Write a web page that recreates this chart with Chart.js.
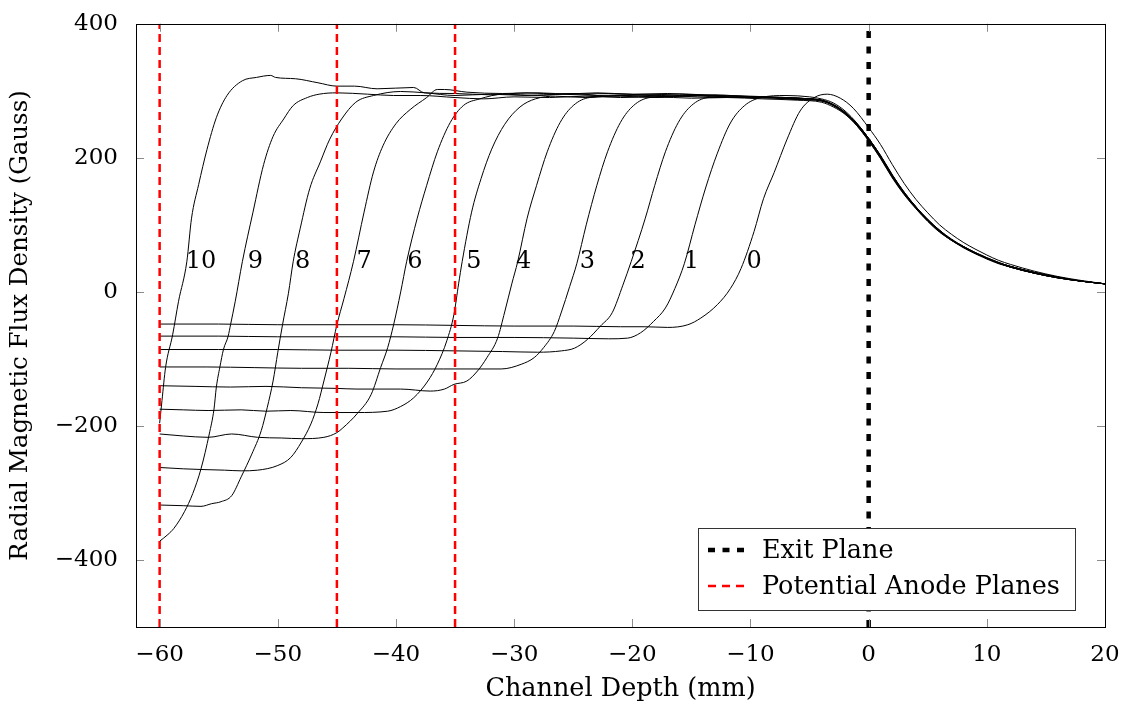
<!DOCTYPE html>
<html>
<head>
<meta charset="utf-8">
<script src="https://cdn.jsdelivr.net/npm/chart.js@4.4.1/dist/chart.umd.min.js"></script>
<style>
  html, body { margin: 0; padding: 0; background: #fff; }
  #wrap { width: 1126px; height: 711px; }
</style>
</head>
<body>
<div id="wrap"><canvas id="fluxChart" width="1126" height="711"></canvas></div>
<script>
/* ===== DATA (depth mm, flux Gauss) ===== */
const curve0 = [[-60,-48],[-55,-48],[-50,-49],[-45,-49],[-40,-49],[-35,-50],[-30,-51],[-25,-51],[-21,-52],[-19,-52],[-17,-53],[-15.3,-49],[-14.2,-39],[-12.8,-19],[-11.7,5],[-10.8,35],[-9.7,90],[-8.9,139],[-8.0,178],[-6.9,228],[-5.8,270],[-4.6,290],[-3.5,295],[-2.4,289],[-1.3,274],[0,245],[1,220],[2,190],[3,162],[4,138],[5,118],[6,100],[7,86],[8,74],[9,64],[10,55],[11,47],[12,41],[14,31],[16,23],[18,17],[20,12]];
const curve1 = [[-60,-66],[-55,-66],[-50,-67],[-45,-67],[-40,-67],[-35,-68],[-30,-68],[-25,-69],[-22,-70],[-20.4,-69],[-19.3,-61],[-18.2,-44],[-17.2,-24],[-16.4,5],[-15.6,42],[-14.7,100],[-13.8,155],[-12.8,207],[-11.7,252],[-10.5,278],[-9.1,290],[-7,293],[-5,291],[-4,288],[-3,282],[-2,270],[-1,252],[0,229],[1,204],[2,175],[3,149],[4,127],[5,108],[6,92],[7,79],[8,68],[9,59],[10,51],[11,44],[12,38],[14,29],[16,22],[18,16],[20,12]];
const curve2 = [[-60,-86],[-55,-86],[-50,-86],[-45,-87],[-40,-87],[-35,-88],[-31,-89],[-28,-90],[-26,-88],[-24.9,-84],[-23.8,-71],[-22.7,-51],[-21.7,-31],[-20.8,10],[-20.1,45],[-18.9,110],[-18.1,159],[-17.2,209],[-16.1,253],[-15.0,278],[-13.6,290],[-11,292],[-8,290],[-6,289],[-5,288],[-4,285],[-3,279],[-2,267],[-1,250],[0,227],[1,201],[2,172],[3,147],[4,126],[5,107],[6,91],[7,78],[8,67],[9,58],[10,50],[11,43],[12,37],[14,28],[16,21],[18,16],[20,12]];
const curve3 = [[-60,-112],[-56,-112],[-52,-113],[-48,-114],[-44,-114],[-40,-115],[-36,-115],[-33,-115],[-31.1,-115],[-29.4,-108],[-28.3,-98],[-27.5,-83],[-26.6,-59],[-26.0,-30],[-25.3,8],[-24.7,42],[-23.9,100],[-23.0,159],[-22.1,209],[-21.0,253],[-19.9,278],[-18.5,290],[-16,292],[-13,290],[-10,291],[-7,290],[-5,288],[-4,286],[-3,280],[-2,268],[-1,251],[0,229],[1,203],[2,174],[3,148],[4,127],[5,108],[6,92],[7,78],[8,68],[9,58],[10,50],[11,43],[12,38],[14,29],[16,22],[18,16],[20,12]];
const curve4 = [[-60,-140],[-57,-141],[-54,-142],[-51,-141],[-48,-143],[-45,-144],[-43.3,-145],[-39.6,-145],[-37.1,-148],[-35.9,-145],[-35.1,-138],[-34.0,-133],[-33.1,-118],[-32.3,-98],[-31.4,-69],[-30.8,-30],[-30.2,12],[-29.7,45],[-28.9,110],[-28.1,159],[-27.2,209],[-26.1,253],[-25.0,278],[-23.6,290],[-21,292],[-18,290],[-15,293],[-12,290],[-9,291],[-7,289],[-5,288],[-4,286],[-3,279],[-2,267],[-1,250],[0,228],[1,202],[2,173],[3,147],[4,126],[5,107],[6,91],[7,78],[8,67],[9,58],[10,50],[11,43],[12,37],[14,28],[16,21],[18,16],[20,12]];
const curve5 = [[-60,-175],[-58,-176],[-55.9,-177],[-53.1,-176],[-51,-178],[-48.9,-177],[-46.1,-180],[-43.3,-180],[-40.7,-178],[-39.6,-171],[-38.5,-158],[-37.3,-133],[-36.5,-108],[-35.7,-73],[-35.1,-34],[-34.7,12],[-34.4,45],[-33.6,119],[-32.8,169],[-31.9,213],[-30.8,250],[-29.5,276],[-28.2,288],[-26.5,292],[-24,290],[-21,293],[-18,291],[-15,294],[-12,291],[-9,290],[-7,289],[-5,288],[-4,286],[-3,279],[-2,268],[-1,251],[0,229],[1,203],[2,174],[3,149],[4,127],[5,108],[6,92],[7,78],[8,68],[9,59],[10,51],[11,44],[12,38],[14,29],[16,22],[18,16],[20,12]];
const curve6 = [[-60,-212],[-58,-215],[-55.9,-217],[-53.9,-212],[-51.7,-217],[-49.7,-218],[-48.0,-219],[-46.1,-217],[-45.0,-210],[-44.5,-203],[-43.3,-182],[-42.1,-153],[-41.3,-113],[-40.7,-83],[-40.2,-49],[-39.6,0],[-39.1,45],[-38.2,110],[-37.4,159],[-36.5,209],[-35.4,253],[-34.3,278],[-32.9,288],[-30.9,295],[-28,293],[-25,296],[-22,292],[-19,294],[-16,292],[-13,294],[-10,291],[-7,289],[-5,288],[-4,286],[-3,279],[-2,267],[-1,251],[0,229],[1,203],[2,174],[3,148],[4,126],[5,107],[6,91],[7,78],[8,67],[9,58],[10,50],[11,43],[12,38],[14,29],[16,22],[18,16],[20,12]];
const curve7 = [[-60,-262],[-58,-264],[-56.5,-265],[-54.5,-266],[-53.1,-267],[-51.7,-266],[-50.0,-259],[-48.9,-247],[-48.0,-224],[-47.2,-197],[-46.6,-167],[-46.1,-133],[-45.5,-90],[-45.0,-49],[-44.4,-10],[-43.6,45],[-42.7,119],[-41.9,179],[-41.1,218],[-40.0,251],[-38.8,272],[-37.4,290],[-36.5,302],[-35.9,302],[-34,298],[-31,296],[-28,297],[-25,295],[-22,296],[-19,294],[-16,295],[-13,293],[-10,292],[-7,290],[-5,288],[-4,285],[-3,278],[-2,266],[-1,248],[0,226],[1,201],[2,172],[3,147],[4,125],[5,106],[6,90],[7,77],[8,67],[9,58],[10,50],[11,43],[12,37],[14,28],[16,21],[18,16],[20,12]];
const curve8 = [[-60,-318],[-58,-319],[-56.5,-320],[-55.6,-316],[-54.8,-313],[-53.9,-304],[-53.1,-276],[-52.2,-242],[-51.4,-207],[-50.9,-173],[-50.4,-133],[-50.0,-90],[-49.6,-49],[-49.1,-2],[-48.7,45],[-48.1,95],[-47.3,154],[-46.4,194],[-45.6,228],[-44.6,258],[-43.4,283],[-41.9,293],[-39.6,299],[-37.5,297],[-35,293],[-32,295],[-29,293],[-26,295],[-23,293],[-20,294],[-17,292],[-14,293],[-11,290],[-8,289],[-6,287],[-4,286],[-3,279],[-2,267],[-1,250],[0,228],[1,202],[2,173],[3,148],[4,126],[5,107],[6,91],[7,78],[8,67],[9,58],[10,50],[11,43],[12,38],[14,29],[16,22],[18,16],[20,12]];
const curve9 = [[-60,-372],[-59.3,-362],[-58.8,-353],[-57.9,-328],[-57.2,-301],[-56.5,-264],[-55.8,-212],[-55.4,-175],[-55.2,-142],[-54.9,-112],[-54.6,-86],[-54.2,-66],[-54.0,-49],[-53.6,-14],[-53.0,45],[-52.1,119],[-51.2,190],[-50.4,232],[-49.5,258],[-48.7,278],[-47.5,290],[-46.5,295],[-45.0,297],[-42.4,295],[-40.2,293],[-37.9,293],[-35,290],[-32.6,288],[-30,291],[-27,290],[-24,292],[-21,290],[-18,291],[-15,289],[-12,290],[-9,288],[-6,286],[-4,283],[-3,276],[-2,265],[-1,248],[0,225],[1,199],[2,170],[3,145],[4,124],[5,105],[6,89],[7,77],[8,66],[9,57],[10,49],[11,42],[12,37],[14,28],[16,21],[18,16],[20,12]];
const curve10 = [[-60,-196],[-59.8,-162],[-59.5,-113],[-58.9,-64],[-58.4,-14],[-57.7,45],[-57.3,110],[-56.7,160],[-56.0,212],[-55.2,260],[-54.3,293],[-53.0,315],[-51.8,320],[-50.6,323],[-50.2,320],[-48.5,318],[-46.6,312],[-45.0,307],[-43.5,307],[-41.6,303],[-38.5,305],[-37.6,297],[-35,296],[-32,294],[-29,297],[-26,295],[-23,297],[-20,295],[-17,296],[-14,294],[-11,292],[-8,290],[-6,287],[-4,285],[-3,278],[-2,266],[-1,249],[0,226],[1,200],[2,171],[3,146],[4,125],[5,106],[6,90],[7,77],[8,67],[9,58],[10,50],[11,43],[12,37],[14,28],[16,21],[18,16],[20,12]];

const curves = [curve0, curve1, curve2, curve3, curve4, curve5, curve6, curve7, curve8, curve9, curve10];
const curveNames = ["0", "1", "2", "3", "4", "5", "6", "7", "8", "9", "10"];
const nameDepths = [-9.7, -15.0, -19.5, -23.8, -29.2, -33.4, -38.4, -42.7, -47.9, -51.9, -56.5];
const nameLevel = 45;

const exitPlane = 0;
const anodePlanes = [-60, -45, -35];
const xTickValues = [-60, -50, -40, -30, -20, -10, 0, 10, 20];
const yTickValues = [-400, -200, 0, 200, 400];

/* ===== STYLE ===== */
const SERIF = '"DejaVu Serif", "Liberation Serif", serif';
const minus = (v) => String(v).replace("-", "\u2212");

/* ===== DATASETS ===== */
const planeSets = [
  {
    data: [{ x: exitPlane, y: -500 }, { x: exitPlane, y: 400 }],
    borderColor: "#000",
    borderWidth: 4.5,
    borderDash: [7, 8.5],
    pointRadius: 0,
  },
  ...anodePlanes.map((p) => ({
    data: [{ x: p, y: -500 }, { x: p, y: 400 }],
    borderColor: "#ff0000",
    borderWidth: 2.5,
    borderDash: [8, 5],
    pointRadius: 0,
  })),
];

const curveSets = curves.map((c) => ({
  data: c.map(([x, y]) => ({ x, y })),
  borderColor: "#000",
  borderWidth: 1,
  pointRadius: 0,
  cubicInterpolationMode: "monotone",
}));

/* ===== OVERLAY: frame, inner ticks, curve numbers, legend ===== */
const overlay = {
  id: "overlay",
  afterDraw(chart) {
    const { ctx, chartArea: a, scales } = chart;
    const xs = scales.x, ys = scales.y;
    ctx.save();

    // inner tick marks
    ctx.strokeStyle = "#8c8c8c";
    ctx.lineWidth = 1;
    ctx.beginPath();
    xTickValues.forEach((v) => {
      const px = Math.round(xs.getPixelForValue(v)) + 0.5;
      ctx.moveTo(px, a.bottom); ctx.lineTo(px, a.bottom - 8);
      ctx.moveTo(px, a.top); ctx.lineTo(px, a.top + 8);
    });
    yTickValues.forEach((v) => {
      const py = Math.round(ys.getPixelForValue(v)) + 0.5;
      ctx.moveTo(a.left, py); ctx.lineTo(a.left + 8, py);
      ctx.moveTo(a.right, py); ctx.lineTo(a.right - 8, py);
    });
    ctx.stroke();

    // frame
    ctx.strokeStyle = "#000";
    ctx.lineWidth = 1;
    ctx.strokeRect(Math.round(a.left) + 0.5, Math.round(a.top) + 0.5,
      Math.round(a.right - a.left), Math.round(a.bottom - a.top));

    // curve numbers
    ctx.fillStyle = "#000";
    ctx.font = "24px " + SERIF;
    ctx.textAlign = "center";
    ctx.textBaseline = "middle";
    curveNames.forEach((n, i) => {
      ctx.fillText(n, xs.getPixelForValue(nameDepths[i]), ys.getPixelForValue(nameLevel));
    });

    // legend
    const lx = 698, ly = 528, lw = 377, lh = 82;
    ctx.fillStyle = "#fff";
    ctx.fillRect(lx, ly, lw, lh);
    ctx.strokeStyle = "#333";
    ctx.strokeRect(lx + 0.5, ly + 0.5, lw, lh);

    const rows = [
      { text: "Exit Plane", color: "#000", width: 4.5, dash: [7, 7.5], y: ly + 22 },
      { text: "Potential Anode Planes", color: "#ff0000", width: 2.5, dash: [8, 6], y: ly + 58 },
    ];
    rows.forEach((r) => {
      ctx.beginPath();
      ctx.strokeStyle = r.color;
      ctx.lineWidth = r.width;
      ctx.setLineDash(r.dash);
      ctx.moveTo(708, r.y);
      ctx.lineTo(750, r.y);
      ctx.stroke();
      ctx.setLineDash([]);
      ctx.fillStyle = "#000";
      ctx.font = "25.5px " + SERIF;
      ctx.textAlign = "left";
      ctx.textBaseline = "middle";
      ctx.fillText(r.text, 762, r.y + 1);
    });

    ctx.restore();
  },
};

/* ===== CHART ===== */
new Chart(document.getElementById("fluxChart"), {
  type: "line",
  data: { datasets: [...planeSets, ...curveSets] },
  options: {
    responsive: false,
    devicePixelRatio: 1,
    animation: false,
    events: [],
    layout: { padding: { top: 21, right: 21, left: 0, bottom: 0 } },
    plugins: { legend: { display: false }, tooltip: { enabled: false } },
    scales: {
      x: {
        type: "linear",
        min: -62,
        max: 20,
        afterBuildTicks: (s) => { s.ticks = xTickValues.map((v) => ({ value: v })); },
        afterFit: (s) => { s.height = 84; },
        grid: { display: false },
        border: { display: false },
        ticks: {
          color: "#000",
          font: { family: SERIF, size: 23 },
          padding: 6,
          maxRotation: 0,
          callback: (v) => minus(v),
        },
        title: {
          display: true,
          text: "Channel Depth (mm)",
          color: "#000",
          font: { family: SERIF, size: 25.5 },
          padding: { top: 0, bottom: 6 },
        },
      },
      y: {
        type: "linear",
        min: -500,
        max: 400,
        afterBuildTicks: (s) => { s.ticks = yTickValues.map((v) => ({ value: v })); },
        afterFit: (s) => { s.width = 136; },
        grid: { display: false },
        border: { display: false },
        ticks: {
          color: "#000",
          font: { family: SERIF, size: 23 },
          padding: 10,
          callback: (v) => minus(v),
        },
        title: {
          display: true,
          text: "Radial Magnetic Flux Density (Gauss)",
          color: "#000",
          font: { family: SERIF, size: 24.5 },
          padding: { top: 6, bottom: 0 },
        },
      },
    },
  },
  plugins: [overlay],
});
</script>
</body>
</html>
